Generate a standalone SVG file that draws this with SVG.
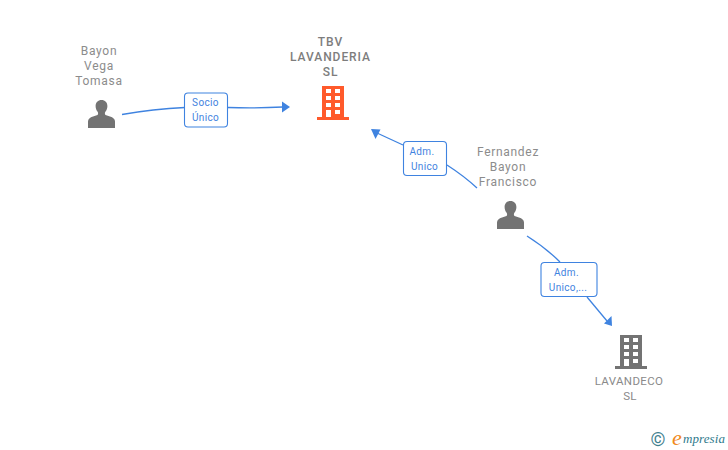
<svg xmlns="http://www.w3.org/2000/svg" width="728" height="450" viewBox="0 0 728 450">
<style>
text{font-family:Roboto,"Liberation Sans",sans-serif;text-anchor:middle}
.n{font-size:12px;fill:#8c8c8c;letter-spacing:.7px}
.b{font-weight:500;font-size:12px;fill:#7d7d7d;letter-spacing:.95px}
.o{font-size:11.500px;fill:#8a8a8a;letter-spacing:.35px}
.l{font-size:10px;fill:#3f83e0;letter-spacing:.35px}
.e{fill:none;stroke:#3f83e0;stroke-width:1.300}
.a{fill:#3f83e0}
.box{fill:#fff;stroke:#3f83e0;stroke-width:1.100}
.p{fill:#737373}
.g{fill:#737373}
.w{fill:#fff}
</style>
<defs>
<path id="person" d="M0 28V21.500C0 19 2 17.600 5 16.600L9.500 15C10.300 14.200 10.300 12.800 9.600 11.800C8.200 10.200 7.600 8 7.600 6C7.600 2.400 10 0 13.500 0S19.400 2.400 19.400 6C19.400 8 18.800 10.200 17.400 11.800C16.700 12.800 16.700 14.200 17.500 15L22 16.600C25 17.600 27 19 27 21.500V28Z"/>
<g id="windows" class="w">
<rect x="4" y="3" width="5" height="4"/><rect x="13" y="3" width="5" height="4"/>
<rect x="4" y="10" width="5" height="4"/><rect x="13" y="10" width="5" height="4"/>
<rect x="4" y="17" width="5" height="4"/><rect x="13" y="17" width="5" height="4"/>
<rect x="4" y="24" width="5" height="7"/><rect x="13" y="24" width="5" height="4"/>
</g>
</defs>
<g id="connectors">
<path class="e" d="M122 114.500Q153 109 185 107.500"/>
<path class="e" d="M228 107.500Q255 108.500 283 107"/>
<path class="a" d="M290 107L282 101.500V112.500Z"/>
<path class="e" d="M403 145L377 133"/>
<path class="a" d="M371 129L380.500 129.500L375.500 139Z"/>
<path class="e" d="M447 165Q464 176 477 188"/>
<path class="e" d="M527 236Q546 248 560 262"/>
<path class="e" d="M587 297L607 321"/>
<path class="a" d="M612 326L611.500 316L604 323.500Z"/>
</g>
<g id="edge-label-1"><rect class="box" x="184.500" y="93" width="43" height="34" rx="3.500"/><text class="l" x="205.500" y="106">Socio</text><text class="l" x="205.500" y="121">Único</text></g>
<g id="edge-label-2"><rect class="box" x="403.500" y="141.500" width="43" height="34" rx="3.500"/><text class="l" x="422" y="155">Adm.</text><text class="l" x="424.500" y="170">Unico</text></g>
<g id="edge-label-3"><rect class="box" x="541" y="262.500" width="56" height="34" rx="3.500"/><text class="l" x="566.500" y="276">Adm.</text><text class="l" x="568" y="291">Unico,...</text></g>
<g id="node-bayon">
<text class="n" x="99" y="55">Bayon</text><text class="n" x="99" y="70">Vega</text><text class="n" x="99" y="85">Tomasa</text>
<use href="#person" class="p" x="88" y="100"/>
</g>
<g id="node-tbv">
<text class="b" x="330.500" y="46">TBV</text><text class="b" x="330.500" y="61">LAVANDERIA</text><text class="b" x="330.500" y="76">SL</text>
<path fill="#ff5a2b" d="M322 86H344V117H349V120H317V117H322Z"/>
<use href="#windows" x="322" y="86"/>
</g>
<g id="node-fernandez">
<text class="n" x="508" y="156">Fernandez</text><text class="n" x="508" y="171">Bayon</text><text class="n" x="508" y="186">Francisco</text>
<use href="#person" class="p" x="497" y="201"/>
</g>
<g id="node-lavandeco">
<path class="g" d="M620 335H642V366H647V369H615V366H620Z"/>
<use href="#windows" x="620" y="335"/>
<text class="o" x="629" y="385">LAVANDECO</text><text class="o" x="630" y="400">SL</text>
</g>
<g id="watermark">
<text x="658" y="445.500" style="font-size:19px;fill:#3f7f8f">©</text>
<text x="677" y="445" style="font-family:'Liberation Serif',serif;font-style:italic;font-size:22px;fill:#f08a1d">e</text>
<text x="704" y="443" style="font-family:'Liberation Serif',serif;font-style:italic;font-size:13px;fill:#2f7a8c;letter-spacing:.1px">mpresia</text>
</g>
</svg>
